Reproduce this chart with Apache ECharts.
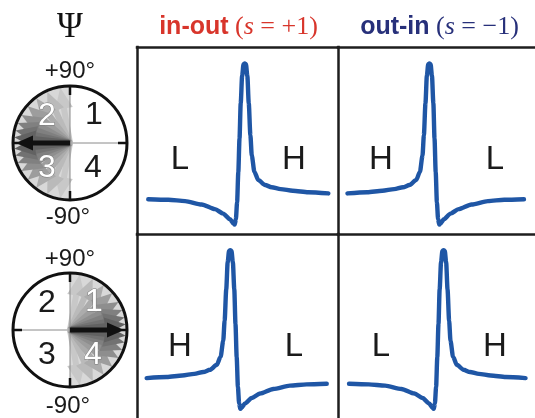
<!DOCTYPE html>
<html>
<head>
<meta charset="utf-8">
<style>
  html, body { margin: 0; padding: 0; background: #ffffff; }
  #chart { width: 535px; height: 418px; }
</style>
<script src="https://cdn.jsdelivr.net/npm/echarts@6/dist/echarts.min.js"></script>
</head>
<body>
<div id="chart"></div>
<script>
// Fano-type resonance trace: detuning (arb. units) and normalised signal.
const sweep = [-44.4, -34.4, -26.1, -17.8, -11.2, -7.1, -3.7, -2.2, -1.4, -0.8, -0.2,
               0.4, 1.0, 1.6, 2.3, 3.0, 3.6, 4.2, 4.9, 5.6, 6.4, 7.1,
               8.4, 10.3, 13.7, 17.0, 21.5, 27.5, 35.2, 45.2];
const signal = [18.6, 18.3, 17.6, 15.8, 13.3, 10.9, 7.9, 5.8, 5.0, 8.0, 17.0,
                33.0, 51.0, 70.0, 84.5, 90.8, 91.2, 90.8, 84.5, 70.0, 53.0, 42.0,
                33.3, 28.9, 26.2, 25.0, 24.0, 23.1, 22.3, 21.7];

// Column headers and the side labels of each panel (row-major order).
const columnTitles = [
  { name: 'in-out', sign: '+1', color: '#d8352b' },
  { name: 'out-in', sign: '\u22121', color: '#27307a' }
];
const sideLabels = [['L', 'H'], ['H', 'L'], ['H', 'L'], ['L', 'H']];
// A reversed sweep direction mirrors the trace.
const reversedSweep = [false, true, true, false];
const angleTicks = ['+90\u00b0', '-90\u00b0'];

const chart = echarts.init(document.getElementById('chart'), null, { renderer: 'canvas' });

const P = { left: 137, top: 47, w: 201, h: 187 };
const cells = [[0, 0], [0, 1], [1, 0], [1, 1]];

const grids = [], xAxes = [], yAxes = [], series = [];
const frame = { show: true, onZero: false, lineStyle: { color: '#1e1e1e', width: 2.5, cap: 'square' } };
cells.forEach(([r, c], i) => {
  grids.push({ left: P.left + c * P.w, top: P.top + r * P.h, width: P.w, height: P.h });
  xAxes.push({ gridIndex: i, type: 'value', min: -50, max: 50, inverse: reversedSweep[i], position: 'top',
    axisLine: frame, axisTick: { show: false }, axisLabel: { show: false }, splitLine: { show: false } });
  yAxes.push({ gridIndex: i, type: 'value', min: 0, max: 100, position: 'left',
    axisLine: frame, axisTick: { show: false }, axisLabel: { show: false }, splitLine: { show: false } });
  series.push({ type: 'line', xAxisIndex: i, yAxisIndex: i, showSymbol: false,
    smooth: 0.25, smoothMonotone: 'x',
    lineStyle: { color: '#1f56a5', width: 4.4, join: 'round', cap: 'round' },
    data: sweep.map((x, k) => [x, signal[k]]) });
});

const graphic = [];
const txt = (text, x, y, font, fill, extra) => graphic.push({
  type: 'text', z: 20,
  style: Object.assign({ text, x, y, font, fill, textAlign: 'center', textVerticalAlign: 'middle' }, extra || {})
});

// Column headers
columnTitles.forEach((t, c) => {
  graphic.push({ type: 'text', z: 20, style: {
    text: '{a|' + t.name + '}{b|\u00a0(}{c|s}{b|\u00a0=\u00a0' + t.sign + ')}',
    x: P.left + c * P.w + P.w / 2 + 1, y: 40, textAlign: 'center', textVerticalAlign: 'bottom',
    rich: {
      a: { fontFamily: 'Liberation Sans', fontWeight: 'bold', fontSize: 25, fill: t.color },
      b: { fontFamily: 'Liberation Serif', fontSize: 26, fill: t.color },
      c: { fontFamily: 'Liberation Serif', fontStyle: 'italic', fontSize: 26, fill: t.color }
    }
  }});
});

// L / H labels inside panels
cells.forEach(([r, c], i) => {
  const x0 = P.left + c * P.w, y0 = P.top + r * P.h + 113;
  txt(sideLabels[i][0], x0 + 43, y0, '33px "Liberation Sans"', '#1a1a1a');
  txt(sideLabels[i][1], x0 + P.w - 44, y0, '33px "Liberation Sans"', '#1a1a1a');
});

// Polar-angle dials
txt('\u03a8', 70, 28, '35px "Liberation Serif"', '#111');
const R = 57;
function arrow(cx, cy, thDeg, len, headLen, headHalf, shaftHalf, fill, z) {
  const t = thDeg * Math.PI / 180;
  const ux = Math.cos(t), uy = -Math.sin(t), vx = -uy, vy = ux;
  const p = (a, b) => [cx + ux * a + vx * b, cy + uy * a + vy * b];
  graphic.push({ type: 'polygon', z, shape: { points: [
    p(0, -shaftHalf), p(len - headLen, -shaftHalf), p(len - headLen, -headHalf), p(len, 0),
    p(len - headLen, headHalf), p(len - headLen, shaftHalf), p(0, shaftHalf)] },
    style: { fill } });
}
function dial(cx, cy, dir, whiteNums) {
  const base = dir < 0 ? 180 : 0;
  graphic.push({ type: 'sector', z: 5, shape: { cx, cy, r: R, r0: 0,
    startAngle: dir < 0 ? Math.PI / 2 : -Math.PI / 2, endAngle: dir < 0 ? Math.PI * 1.5 : Math.PI / 2 },
    style: { fill: '#d8d8d8' } });
  const offsets = [80, 66, 53, 41, 30, 21, 13, 6];
  offsets.forEach((o, k) => {
    const lv = Math.round(70 + 140 * Math.pow(o / 90, 0.6));
    const col = 'rgb(' + lv + ',' + lv + ',' + lv + ')';
    [-1, 1].forEach(s => arrow(cx, cy, base + s * o, R - 1, 21, 9, 3, col, 6 + k));
  });
  // centre lines and ticks
  graphic.push({ type: 'line', z: 25, shape: { x1: cx, y1: cy - R, x2: cx, y2: cy + R }, style: { stroke: '#8a8a8a', lineWidth: 1 } });
  graphic.push({ type: 'line', z: 25, shape: { x1: cx - dir * R, y1: cy, x2: cx, y2: cy }, style: { stroke: '#8a8a8a', lineWidth: 1 } });
  [[0, -1], [0, 1], [-1, 0], [1, 0]].forEach(([a, b]) => graphic.push({ type: 'line', z: 32,
    shape: { x1: cx + a * R, y1: cy + b * R, x2: cx + a * (R - 9), y2: cy + b * (R - 9) },
    style: { stroke: '#111', lineWidth: 2.5 } }));
  arrow(cx, cy, base, R - 3, 17, 7.5, 2.6, '#111', 30);
  graphic.push({ type: 'circle', z: 31, shape: { cx, cy, r: R }, style: { fill: 'none', stroke: '#111', lineWidth: 3 } });
  const nums = [['1', 24, -28], ['2', -23, -27], ['3', -23, 25], ['4', 23, 25]];
  nums.forEach(([n, dx, dy]) => {
    const white = whiteNums.indexOf(n) >= 0;
    txt(n, cx + dx, cy + dy, '32px "Liberation Sans"', white ? '#ffffff' : '#1a1a1a',
      white ? { stroke: '#7a7a7a', lineWidth: 1 } : null);
  });
}
dial(70, 143, -1, ['2', '3']);
dial(70, 330, 1, ['1', '4']);
txt(angleTicks[0], 70, 71, '24px "Liberation Sans"', '#1a1a1a');
txt(angleTicks[1], 68, 217, '24px "Liberation Sans"', '#1a1a1a');
txt(angleTicks[0], 70, 259, '24px "Liberation Sans"', '#1a1a1a');
txt(angleTicks[1], 68, 406, '24px "Liberation Sans"', '#1a1a1a');

chart.setOption({
  backgroundColor: '#ffffff',
  animation: false,
  grid: grids,
  xAxis: xAxes,
  yAxis: yAxes,
  series,
  graphic
});
</script>
</body>
</html>
